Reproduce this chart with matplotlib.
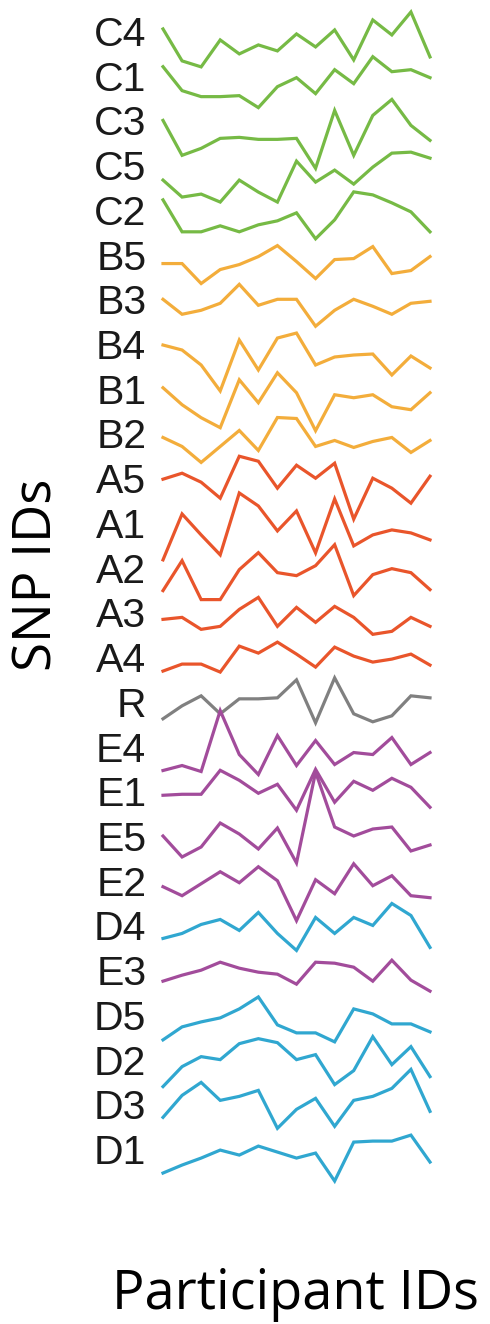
import matplotlib.pyplot as plt

# SNP ids top to bottom, one trace per SNP across 15 participants
snp_ids = ['C4', 'C1', 'C3', 'C5', 'C2', 'B5', 'B3', 'B4', 'B1', 'B2',
           'A5', 'A1', 'A2', 'A3', 'A4', 'R', 'E4', 'E1', 'E5', 'E2',
           'D4', 'E3', 'D5', 'D2', 'D3', 'D1']

participants = list(range(15))

# deviation of each trace from its row (arbitrary units)
C4 = [2, -30, -36, -9, -23, -14, -20, -3, -16, 1, -29, 11, -4, 19, -26]
C1 = [9, -15, -21, -21, -20, -32, -11, -2, -18, 6, -8, 19, 4, 6, -2]
C3 = [0, -35, -28, -18, -17, -19, -19, -18, -48, 10, -35, 5, 21, -5, -20]
C5 = [-15, -32, -29, -37, -15, -27, -37, 4, -17, -5, -19, -2, 12, 13, 7]
C2 = [10, -22, -22, -16, -22, -15, -11, -3, -29, -10, 18, 15, 7, -2, -22]
B5 = [-9, -9, -29, -15, -10, -2, 9, -7, -24, -5, -4, 8, -19, -16, -2]
B3 = [0, -15, -11, -4, 15, -6, 0, 0, -27, -11, 0, -7, -15, -4, -2]
B4 = [-1, -6, -21, -47, 4, -26, 6, 11, -21, -13, -11, -10, -31, -12, -24]
B1 = [1, -16, -29, -39, 9, -14, 16, -4, -42, -6, -9, -6, -18, -21, -4]
B2 = [-4, -13, -29, -13, 3, -17, 16, 15, -13, -7, -14, -8, -4, -19, -7]
A5 = [-1, 5, -4, -20, 22, 17, -10, 13, 0, 15, -41, 0, -10, -25, 2]
A1 = [-37, 9, -12, -32, 30, 17, -8, 12, -30, 24, -23, -12, -7, -10, -17]
A2 = [-23, 7, -32, -32, -2, 15, -5, -8, 2, 23, -28, -7, -1, -5, -22]
A3 = [-7, -5, -17, -14, 3, 15, -14, 5, -10, 6, -5, -22, -19, -5, -14]
A4 = [-14, -7, -7, -15, 11, 4, 15, 3, -10, 10, 1, -5, -2, 3, -8]
R = [-17, -4, 6, -12, 3, 3, 4, 22, -21, 24, -12, -20, -14, 6, 4]
E4 = [-24, -19, -25, 36, -8, -28, 11, -19, 6, -18, -6, -8, 9, -18, -6]
E1 = [-4, -3, -3, 21, 11, -2, 7, -19, 22, -11, 10, 1, 13, 4, -16]
E5 = [0, -21, -11, 13, 2, -13, 8, -27, 64, 9, 0, 7, 9, -15, -9]
E2 = [-6, -15, -3, 9, -2, 14, 0, -40, 1, -13, 17, -5, 5, -15, -17]
D4 = [-13, -8, 1, 6, -5, 13, -8, -25, 8, -8, 8, 0, 22, 10, -22]
E3 = [-11, -5, 0, 8, 2, -2, -4, -14, 8, 7, 3, -11, 10, -10, -21]
D5 = [-25, -12, -7, -3, 6, 18, -10, -18, -18, -27, 6, 1, -9, -9, -17]
D2 = [-27, -7, 3, 0, 16, 21, 17, 0, 5, -25, -11, 23, -5, 13, -17]
D3 = [-13, 9, 22, 4, 8, 14, -24, -5, 6, -22, 4, 8, 16, 35, -7]
D1 = [-24, -16, -9, -1, -6, 3, -3, -9, -4, -32, 7, 8, 8, 14, -13]

traces = [C4, C1, C3, C5, C2, B5, B3, B4, B1, B2, A5, A1, A2, A3, A4,
          R, E4, E1, E5, E2, D4, E3, D5, D2, D3, D1]

group_colors = {'C': '#76ba45', 'B': '#f3ad3b', 'A': '#e9552b',
                'R': '#808080', 'E': '#a24c9b', 'D': '#30a7d0'}

SPACING = 44.8

fig = plt.figure(figsize=(4.9, 13.24), dpi=100)
ax = fig.add_axes([163 / 490, 124 / 1324, 267 / 490, 1200 / 1324])

for k, (name, vals) in enumerate(zip(snp_ids, traces)):
    offset = -k * SPACING
    ax.plot(participants, [offset + v for v in vals],
            color=group_colors[name[0]], lw=2.3, clip_on=False,
            solid_joinstyle='miter')

ax.set_xlim(0, 14)
ax.set_ylim(-1171, 31)
ax.set_yticks([-k * SPACING for k in range(len(snp_ids))])
ax.set_yticklabels(snp_ids, fontsize=29.5, color='#1a1a1a',
                   family=['Liberation Sans', 'DejaVu Sans'])
ax.tick_params(axis='y', length=0, pad=12)
ax.set_xticks([])
for s in ax.spines.values():
    s.set_visible(False)

fig.text(38 / 490, 1 - 575 / 1324, 'SNP IDs', rotation=90, ha='center',
         va='center', fontsize=38, family='Open Sans', color='black')
fig.text(295 / 490, 1 - 1295 / 1324, 'Participant IDs', ha='center',
         va='center', fontsize=39, family='Open Sans', color='black')

plt.savefig('out.png', dpi=100)
